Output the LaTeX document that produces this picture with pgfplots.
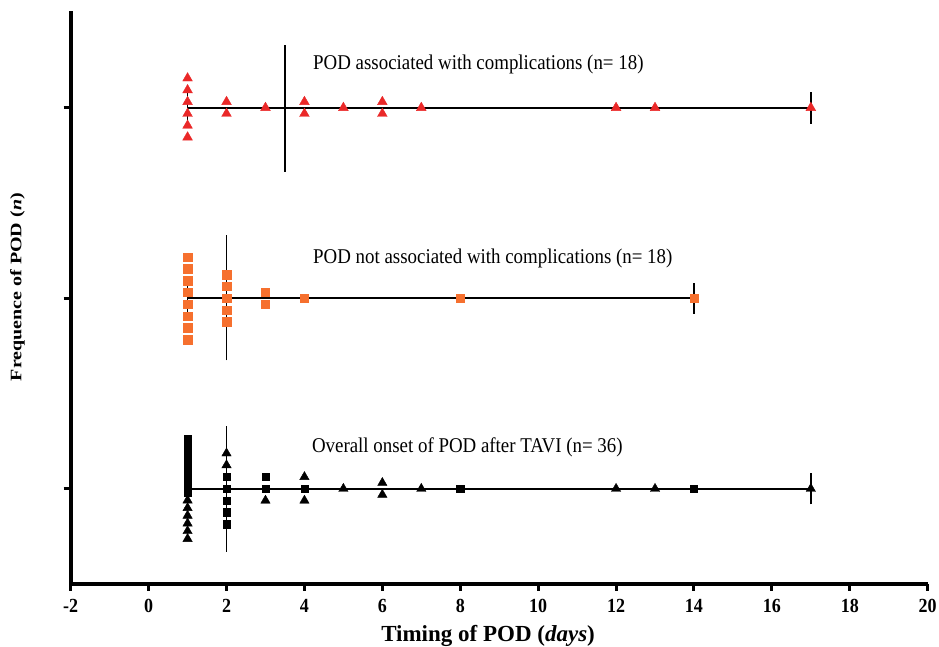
\documentclass[border=0pt]{standalone}
\usepackage{fontspec}
\setmainfont{Liberation Serif}[FakeStretch=0.9]
\newfontfamily\uprightserif{Liberation Serif}
\usepackage{graphicx}
\usepackage{pgfplots}
\pgfplotsset{compat=1.18}
\definecolor{podred}{RGB}{234,40,40}
\definecolor{podorange}{RGB}{246,112,46}
\begin{document}
\begin{tikzpicture}
\path[use as bounding box] (0,0) rectangle (939pt,647pt);
\begin{axis}[
  at={(70.7pt,63pt)}, anchor=south west,
  scale only axis, width=857pt, height=573pt,
  xmin=-2, xmax=20, ymin=0.5, ymax=3.508,
  axis lines=left,
  axis line style={-, line width=4pt},
  xtick={-2,0,...,20}, ytick={1,2,3}, yticklabels={},
  tick align=outside, major tick length=7pt,
  tick style={line width=3pt, black},
  /pgf/number format/assume math mode=true,
  xticklabel style={font=\bfseries\fontsize{20}{20}\selectfont, yshift=-5pt},
  xlabel={Timing of POD (\textit{days})},
  xlabel style={font=\uprightserif\bfseries\fontsize{23}{23}\selectfont,
    at={(axis description cs:0.487,-0.0908)}, anchor=center},
  ylabel={\scalebox{1}[0.8]{Frequence of POD (\textit{n})}},
  ylabel style={font=\uprightserif\bfseries\fontsize{20}{20}\selectfont,
    at={(axis description cs:-0.0621,0.518)}, anchor=center},
  clip=false,
]
% POD associated with complications (n = 18)
\addplot[podred, only marks, mark=triangle*, mark size=5.6pt,
  mark options={fill=podred, draw=none}] coordinates {
  (1,3.155) (1,3.093) (1,3.031) (1,2.969) (1,2.907) (1,2.845)
  (2,3.031) (2,2.969) (3,3) (4,3.031) (4,2.969) (5,3)
  (6,3.031) (6,2.969) (7,3) (12,3) (13,3) (17,3)};
% POD not associated with complications (n = 18)
\addplot[podorange, only marks, mark=square*, mark size=4.2pt,
  mark options={fill=podorange, draw=none}] coordinates {
  (1,2.217) (1,2.155) (1,2.093) (1,2.031) (1,1.969) (1,1.907) (1,1.845) (1,1.783)
  (2,2.124) (2,2.062) (2,2) (2,1.938) (2,1.876)
  (3,2.031) (3,1.969) (4,2) (8,2) (14,2)};
% Overall onset: patients without complications
\addplot[black, only marks, mark=square*, mark size=3.7pt,
  mark options={fill=black, draw=none}] coordinates {
  (1,1.263) (1,1.222) (1,1.182) (1,1.141) (1,1.101) (1,1.061) (1,1.020) (1,0.980)
  (2,1.062) (2,1) (2,0.938) (2,0.876) (2,0.814)
  (3,1.062) (3,1) (4,1) (8,1) (14,1)};
% Overall onset: patients with complications
\addplot[black, only marks, mark=triangle*, mark size=5.4pt,
  mark options={fill=black, draw=none}] coordinates {
  (1,0.939) (1,0.899) (1,0.859) (1,0.818) (1,0.778) (1,0.737)
  (2,1.186) (2,1.124) (3,0.938) (4,1.062) (4,0.938) (5,1)
  (6,1.031) (6,0.969) (7,1) (12,1) (13,1) (17,1)};
% range lines, end caps and medians
\addplot[black, line width=2pt] coordinates {(1,3) (17,3)};
\addplot[black, line width=1.5pt] coordinates {(3.5,2.663) (3.5,3.329)};
\addplot[black, line width=1.5pt] coordinates {(1,2.915) (1,3.095)};
\addplot[black, line width=1.5pt] coordinates {(17,2.915) (17,3.082)};
\addplot[black, line width=2pt] coordinates {(1,2) (14,2)};
\addplot[black, line width=1.5pt] coordinates {(2,1.674) (2,2.330)};
\addplot[black, line width=1.5pt] coordinates {(1,1.918) (1,2.080)};
\addplot[black, line width=1.5pt] coordinates {(14,1.918) (14,2.080)};
\addplot[black, line width=2pt] coordinates {(1,1) (17,1)};
\addplot[black, line width=1.5pt] coordinates {(2,0.668) (2,1.329)};
\addplot[black, line width=1.5pt] coordinates {(1,0.918) (1,1.082)};
\addplot[black, line width=1.5pt] coordinates {(17,0.918) (17,1.083)};
% group captions
\node[anchor=base west, inner sep=0pt, font=\fontsize{21}{21}\selectfont]
  at (axis cs:4.22,3.203) {POD associated with complications (n= 18)};
\node[anchor=base west, inner sep=0pt, font=\fontsize{21}{21}\selectfont]
  at (axis cs:4.22,2.185) {POD not associated with complications (n= 18)};
\node[anchor=base west, inner sep=0pt, font=\fontsize{21}{21}\selectfont]
  at (axis cs:4.19,1.190) {Overall onset of POD after TAVI (n= 36)};
\end{axis}
\end{tikzpicture}
\end{document}
